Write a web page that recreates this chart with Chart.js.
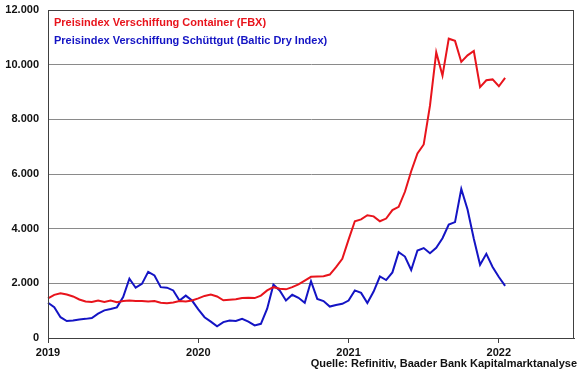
<!DOCTYPE html>
<html>
<head>
<meta charset="utf-8">
<script src="https://cdn.jsdelivr.net/npm/chart.js@4/dist/chart.umd.min.js"></script>
<style>
  html, body { margin: 0; padding: 0; background: #fff; }
  #wrap { width: 580px; height: 375px; }
</style>
</head>
<body>
<div id="wrap"><canvas id="chart" width="580" height="375"></canvas></div>
<script>
// half-monthly dates, axis runs to mid 2022
var dates = [
  "2019-01-01","2019-01-15","2019-02-01","2019-02-15","2019-03-01","2019-03-15","2019-04-01","2019-04-15",
  "2019-05-01","2019-05-15","2019-06-01","2019-06-15","2019-07-01","2019-07-15","2019-08-01","2019-08-15",
  "2019-09-01","2019-09-15","2019-10-01","2019-10-15","2019-11-01","2019-11-15","2019-12-01","2019-12-15",
  "2020-01-01","2020-01-15","2020-02-01","2020-02-15","2020-03-01","2020-03-15","2020-04-01","2020-04-15",
  "2020-05-01","2020-05-15","2020-06-01","2020-06-15","2020-07-01","2020-07-15","2020-08-01","2020-08-15",
  "2020-09-01","2020-09-15","2020-10-01","2020-10-15","2020-11-01","2020-11-15","2020-12-01","2020-12-15",
  "2021-01-01","2021-01-15","2021-02-01","2021-02-15","2021-03-01","2021-03-15","2021-04-01","2021-04-15",
  "2021-05-01","2021-05-15","2021-06-01","2021-06-15","2021-07-01","2021-07-15","2021-08-01","2021-08-15",
  "2021-09-01","2021-09-15","2021-10-01","2021-10-15","2021-11-01","2021-11-15","2021-12-01","2021-12-15",
  "2022-01-01","2022-01-15","2022-02-01","2022-02-15","2022-03-01","2022-03-15","2022-04-01","2022-04-15",
  "2022-05-01","2022-05-15","2022-06-01","2022-06-15","2022-07-01"
];

var fbx = [
  1450, 1580, 1640, 1590, 1520, 1410, 1335, 1320, 1370, 1320, 1370, 1310,
  1350, 1370, 1350, 1350, 1335, 1350, 1290, 1275, 1300, 1350, 1335, 1370,
  1450, 1540, 1590, 1520, 1380, 1400, 1420, 1460, 1470, 1460, 1550, 1740,
  1860, 1800, 1780, 1860, 1960, 2100, 2240, 2250, 2260, 2320, 2590, 2900,
  3600, 4270, 4340, 4490, 4450, 4270, 4370, 4680, 4800, 5350, 6100, 6750,
  7080, 8500, 10450, 9600, 10950, 10870, 10100, 10340, 10500, 9180, 9430, 9460,
  9210, 9520
];

var bdi = [
  1290, 1130, 760, 620, 640, 680, 700, 730, 890, 1010, 1060, 1120,
  1500, 2170, 1840, 1980, 2420, 2290, 1860, 1840, 1740, 1370, 1550, 1370,
  1050, 760, 600, 430, 580, 640, 620, 700, 600, 460, 520, 1070,
  1950, 1740, 1370, 1580, 1470, 1290, 2080, 1430, 1350, 1150, 1210, 1250,
  1370, 1740, 1650, 1280, 1700, 2250, 2120, 2400, 3140, 2980, 2490, 3200,
  3290, 3100, 3300, 3650, 4150, 4240, 5450, 4700, 3630, 2680, 3080, 2600,
  2230, 1910
];

var seriesNames = [
  "Preisindex Verschiffung Container (FBX)",
  "Preisindex Verschiffung Schüttgut (Baltic Dry Index)"
];
var source = "Quelle: Refinitiv, Baader Bank Kapitalmarktanalyse";

var RED = "#e8141c";
var BLUE = "#1414c4";
var FONT = "'Liberation Sans', Arial, sans-serif";

// frame, legend inside plot, source note
var deco = {
  id: "deco",
  afterDatasetsDraw: function (chart) {
    var ctx = chart.ctx, a = chart.chartArea;
    ctx.save();
    ctx.strokeStyle = "#404040";
    ctx.lineWidth = 1;
    ctx.strokeRect(Math.round(a.left) + 0.5, Math.round(a.top) + 0.5,
      Math.round(a.right - a.left) - 1, Math.round(a.bottom - a.top));
    ctx.font = "bold 11px " + FONT;
    ctx.textBaseline = "middle";
    ctx.textAlign = "left";
    chart.data.datasets.forEach(function (ds, i) {
      ctx.fillStyle = ds.borderColor;
      ctx.fillText(ds.label, a.left + 6, a.top + 13 + i * 18);
    });
    ctx.fillStyle = "#111";
    ctx.textAlign = "right";
    ctx.fillText(source, 577, 364);
    ctx.restore();
  }
};

new Chart(document.getElementById("chart"), {
  type: "line",
  data: {
    labels: dates,
    datasets: [
      { label: seriesNames[0], data: fbx, borderColor: RED, borderWidth: 2, pointRadius: 0, fill: false },
      { label: seriesNames[1], data: bdi, borderColor: BLUE, borderWidth: 2, pointRadius: 0, fill: false }
    ]
  },
  options: {
    responsive: false,
    animation: false,
    layout: { padding: { top: 10, right: 6, left: 0, bottom: 0 } },
    plugins: { legend: { display: false }, tooltip: { enabled: false } },
    scales: {
      x: {
        type: "category",
        offset: false,
        afterBuildTicks: function (scale) {
          scale.ticks = scale.ticks.filter(function (t) {
            return dates[t.value].slice(5) === "01-01";
          });
        },
        afterFit: function (scale) { scale.height = 37; },
        ticks: {
          autoSkip: false,
          maxRotation: 0,
          padding: 3,
          color: "#111",
          font: { family: FONT, size: 11, weight: "bold" },
          callback: function (v) { return dates[v].slice(0, 4); }
        },
        grid: { drawOnChartArea: false, drawTicks: true, tickLength: 5, color: "#404040" },
        border: { color: "#404040" }
      },
      y: {
        min: 0,
        max: 12000,
        afterFit: function (scale) {
          scale.width = 48;
          scale.paddingTop = 0;
          scale.paddingBottom = 0;
        },
        ticks: {
          stepSize: 2000,
          padding: 9,
          color: "#111",
          font: { family: FONT, size: 11, weight: "bold" },
          callback: function (v) { return v.toLocaleString("de-DE"); }
        },
        grid: { color: "#8a8a8a", drawTicks: false },
        border: { color: "#404040" }
      }
    }
  },
  plugins: [deco]
});
</script>
</body>
</html>
